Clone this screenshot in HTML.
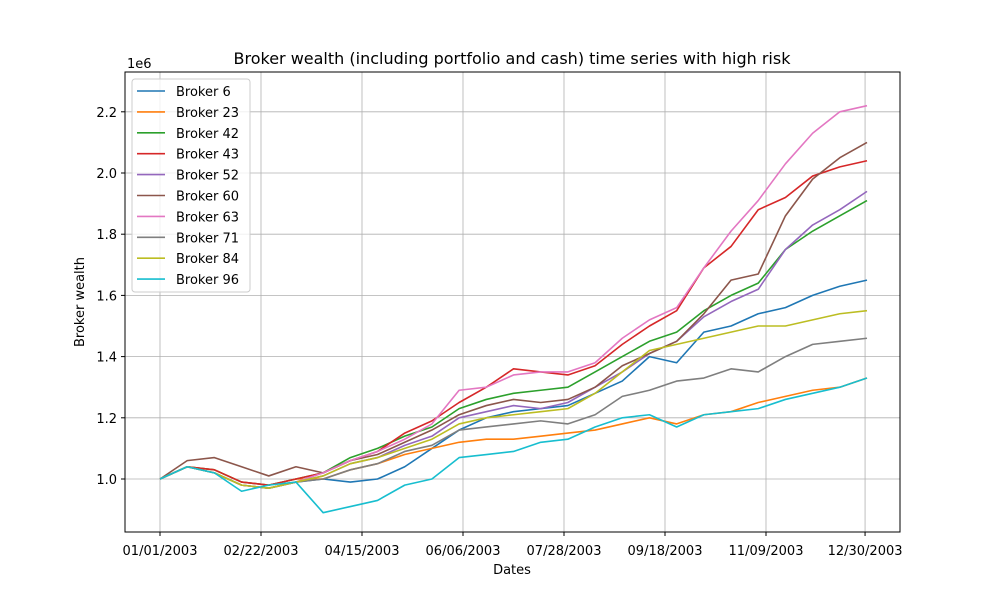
<!DOCTYPE html>
<html><head><meta charset="utf-8"><style>
body{margin:0;background:#fff;}
svg text{font-family:"DejaVu Sans","Liberation Sans",sans-serif;fill:#000;}
</style></head><body>
<svg id="chart" width="1000" height="600" xmlns="http://www.w3.org/2000/svg">
<rect x="0" y="0" width="1000" height="600" fill="#fff"/>
<g id="grid"></g>
<g id="series"></g>
<rect x="125" y="72" width="775" height="460" fill="none" stroke="#000" stroke-width="1"/>
<g id="axes"></g>
<text x="512" y="64" font-size="16" text-anchor="middle">Broker wealth (including portfolio and cash) time series with high risk</text>
<text x="512" y="574" font-size="13" text-anchor="middle">Dates</text>
<text transform="translate(84,302) rotate(-90)" font-size="13" text-anchor="middle">Broker wealth</text>
<text x="127" y="68" font-size="13">1e6</text>
<g id="legend"></g>
</svg>
<script>
const days=[0,14,28,42,56,70,84,98,112,126,140,154,168,182,196,210,224,238,252,266,280,294,308,322,336,350,364];
const xTickLabels=["01/01/2003","02/22/2003","04/15/2003","06/06/2003","07/28/2003","09/18/2003","11/09/2003","12/30/2003"];
const xTickDays=[0,52,104,156,208,260,312,363];
const yTicks=[1.0,1.2,1.4,1.6,1.8,2.0,2.2];
const names=["Broker 6","Broker 23","Broker 42","Broker 43","Broker 52","Broker 60","Broker 63","Broker 71","Broker 84","Broker 96"];
const colors=["#1f77b4","#ff7f0e","#2ca02c","#d62728","#9467bd","#8c564b","#e377c2","#7f7f7f","#bcbd22","#17becf"];
const b6=[1.0,1.04,1.02,0.98,0.97,0.99,1.0,0.99,1.0,1.04,1.10,1.16,1.20,1.22,1.23,1.24,1.28,1.32,1.40,1.38,1.48,1.50,1.54,1.56,1.60,1.63,1.65];
const b23=[1.0,1.04,1.03,0.99,0.98,1.0,1.0,1.03,1.05,1.08,1.10,1.12,1.13,1.13,1.14,1.15,1.16,1.18,1.20,1.18,1.21,1.22,1.25,1.27,1.29,1.30,1.33];
const b42=[1.0,1.04,1.03,0.99,0.98,1.0,1.02,1.07,1.10,1.14,1.17,1.23,1.26,1.28,1.29,1.30,1.35,1.40,1.45,1.48,1.55,1.60,1.64,1.75,1.81,1.86,1.91];
const b43=[1.0,1.04,1.03,0.99,0.98,1.0,1.02,1.06,1.09,1.15,1.19,1.25,1.30,1.36,1.35,1.34,1.37,1.44,1.50,1.55,1.69,1.76,1.88,1.92,1.99,2.02,2.04];
const b52=[1.0,1.04,1.02,0.98,0.97,0.99,1.01,1.05,1.07,1.11,1.14,1.20,1.22,1.24,1.23,1.25,1.30,1.35,1.41,1.45,1.53,1.58,1.62,1.75,1.83,1.88,1.94];
const b60=[1.0,1.06,1.07,1.04,1.01,1.04,1.02,1.06,1.08,1.12,1.16,1.21,1.24,1.26,1.25,1.26,1.30,1.37,1.41,1.45,1.54,1.65,1.67,1.86,1.98,2.05,2.10];
const b63=[1.0,1.04,1.02,0.98,0.97,0.99,1.02,1.06,1.09,1.13,1.18,1.29,1.30,1.34,1.35,1.35,1.38,1.46,1.52,1.56,1.69,1.81,1.91,2.03,2.13,2.20,2.22];
const b71=[1.0,1.04,1.02,0.98,0.97,0.99,1.0,1.03,1.05,1.09,1.11,1.16,1.17,1.18,1.19,1.18,1.21,1.27,1.29,1.32,1.33,1.36,1.35,1.40,1.44,1.45,1.46];
const b84=[1.0,1.04,1.02,0.98,0.97,0.99,1.01,1.05,1.07,1.10,1.13,1.18,1.20,1.21,1.22,1.23,1.28,1.35,1.42,1.44,1.46,1.48,1.50,1.50,1.52,1.54,1.55];
const b96=[1.0,1.04,1.02,0.96,0.98,0.99,0.89,0.91,0.93,0.98,1.00,1.07,1.08,1.09,1.12,1.13,1.17,1.20,1.21,1.17,1.21,1.22,1.23,1.26,1.28,1.30,1.33];
const series=[b6,b23,b42,b43,b52,b60,b63,b71,b84,b96];
const NS="http://www.w3.org/2000/svg";
function xS(d){return 160+d*707/364;}
function yS(v){return 479-(v-1)*306;}
function mk(t,a,p){const e=document.createElementNS(NS,t);for(const k in a)e.setAttribute(k,a[k]);p.appendChild(e);return e;}
const grid=document.getElementById('grid'),axes=document.getElementById('axes');
xTickDays.forEach((d,i)=>{const x=xS(d);
 const g=mk('line',{x1:x,x2:x,y1:72,y2:532,stroke:'#b0b0b0','stroke-width':0.8},grid);
 
 
 mk('line',{x1:x,x2:x,y1:532,y2:536,stroke:'#000'},axes);
 const t=mk('text',{x:x,y:555,'font-size':13,'text-anchor':'middle'},axes);t.textContent=xTickLabels[i];
 
 
});
yTicks.forEach(v=>{const y=yS(v);
 const g=mk('line',{x1:125,x2:900,y1:y,y2:y,stroke:'#b0b0b0','stroke-width':0.8},grid);
 
 
 mk('line',{x1:121,x2:125,y1:y,y2:y,stroke:'#000'},axes);
 const t=mk('text',{x:117,y:y+5,'font-size':13,'text-anchor':'end'},axes);t.textContent=v.toFixed(1);
 
 
});
const sg=document.getElementById('series');
series.forEach((s,i)=>{
 const p=mk('polyline',{points:s.map((v,j)=>xS(days[j])+','+yS(v)).join(' '),fill:'none',stroke:colors[i],'stroke-width':1.6,'stroke-linejoin':'round'},sg);
 
 
});
const lg=document.getElementById('legend');
const box=mk('rect',{x:132,y:79,width:118,height:213,rx:3,fill:'#fff','fill-opacity':0.8,stroke:'#ccc'},lg);


names.forEach((n,i)=>{const y=91+i*20.9;
 const g=mk('g',{},lg);
 
 
 mk('line',{x1:137,x2:165,y1:y,y2:y,stroke:colors[i],'stroke-width':1.6},g);
 const t=mk('text',{x:176,y:y+5,'font-size':13},g);t.textContent=n;
});
</script>
</body></html>
